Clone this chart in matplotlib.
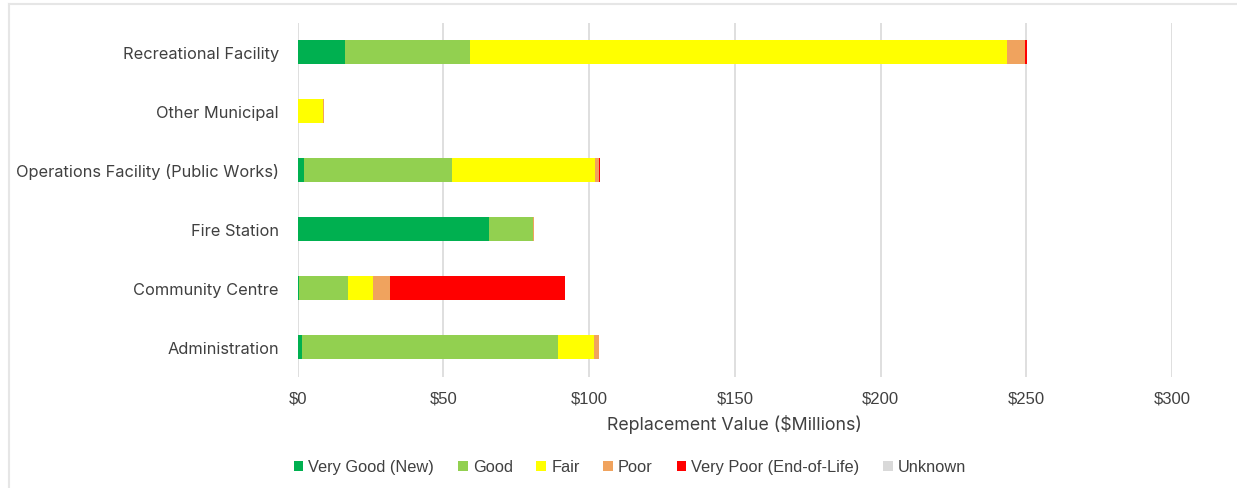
import numpy as np
import matplotlib.pyplot as plt
from matplotlib.lines import Line2D

categories = ['Administration', 'Community Centre', 'Fire Station',
              'Operations Facility (Public Works)', 'Other Municipal',
              'Recreational Facility']

very_good = [1.5, 0.5, 65.7, 2.2, 0.0, 16.3]
good = [87.7, 16.9, 14.9, 50.8, 0.0, 42.9]
fair = [12.3, 8.3, 0.0, 48.9, 8.8, 184.1]
poor = [1.9, 6.0, 0.5, 1.4, 0.3, 6.2]
very_poor = [0.0, 60.0, 0.0, 0.6, 0.0, 0.9]
unknown = [0.0, 0.0, 0.0, 0.0, 0.0, 0.0]

series = [
    ('Very Good (New)', very_good, '#00B050'),
    ('Good', good, '#92D050'),
    ('Fair', fair, '#FFFF00'),
    ('Poor', poor, '#F0A35E'),
    ('Very Poor (End-of-Life)', very_poor, '#FF0000'),
    ('Unknown', unknown, '#D9D9D9'),
]

xticks = [0, 50, 100, 150, 200, 250, 300]
xticklabels = ['$0', '$50', '$100', '$150', '$200', '$250', '$300']

fig = plt.figure(figsize=(12.37, 4.89), dpi=100)
ax = fig.add_axes([297.7 / 1237, 1 - 377.5 / 489, (1172 - 297.7) / 1237, 354 / 489])

# outer border (top and left edges visible)
fig.add_artist(Line2D([9 / 1237, 1], [1 - 5 / 489, 1 - 5 / 489], color='#e6e6e6', lw=1.5))
fig.add_artist(Line2D([9 / 1237, 9 / 1237], [0, 1 - 5 / 489], color='#e6e6e6', lw=1.5))

y = np.arange(len(categories))
left = np.zeros(len(categories))
handles = []
for name, vals, col in series:
    vals = np.array(vals)
    b = ax.barh(y, vals, left=left, height=0.39, color=col, label=name, zorder=3)
    left += vals
    handles.append(b)

ax.set_xlim(0, 300)
ax.set_ylim(-0.5, len(categories) - 0.5)
ax.set_xticks(xticks)
ax.set_xticklabels(xticklabels, fontfamily='Liberation Sans', fontsize=12, color='#404040')
ax.set_yticks(y)
ax.set_yticklabels(categories, fontfamily='Inter', fontsize=11.8, color='#404040')
ax.tick_params(axis='both', length=0)
ax.tick_params(axis='x', pad=10)
ax.tick_params(axis='y', pad=13.5)
ax.grid(axis='x', color='#d9d9d9', lw=1.2, zorder=0)
for s in ax.spines.values():
    s.set_visible(False)

ax.set_xlabel('Replacement Value ($Millions)', fontfamily='Inter', fontsize=12.8,
              color='#404040', labelpad=6)

fig.legend(handles=handles, loc='center', bbox_to_anchor=(630 / 1237, 1 - 468 / 489),
           ncol=6, frameon=False, handlelength=0.6, handleheight=0.6,
           handletextpad=0.3, columnspacing=1.45,
           prop={'family': 'Liberation Sans', 'size': 11.8})
for t in fig.legends[0].get_texts():
    t.set_color('#404040')

plt.savefig('out.png', dpi=100)
